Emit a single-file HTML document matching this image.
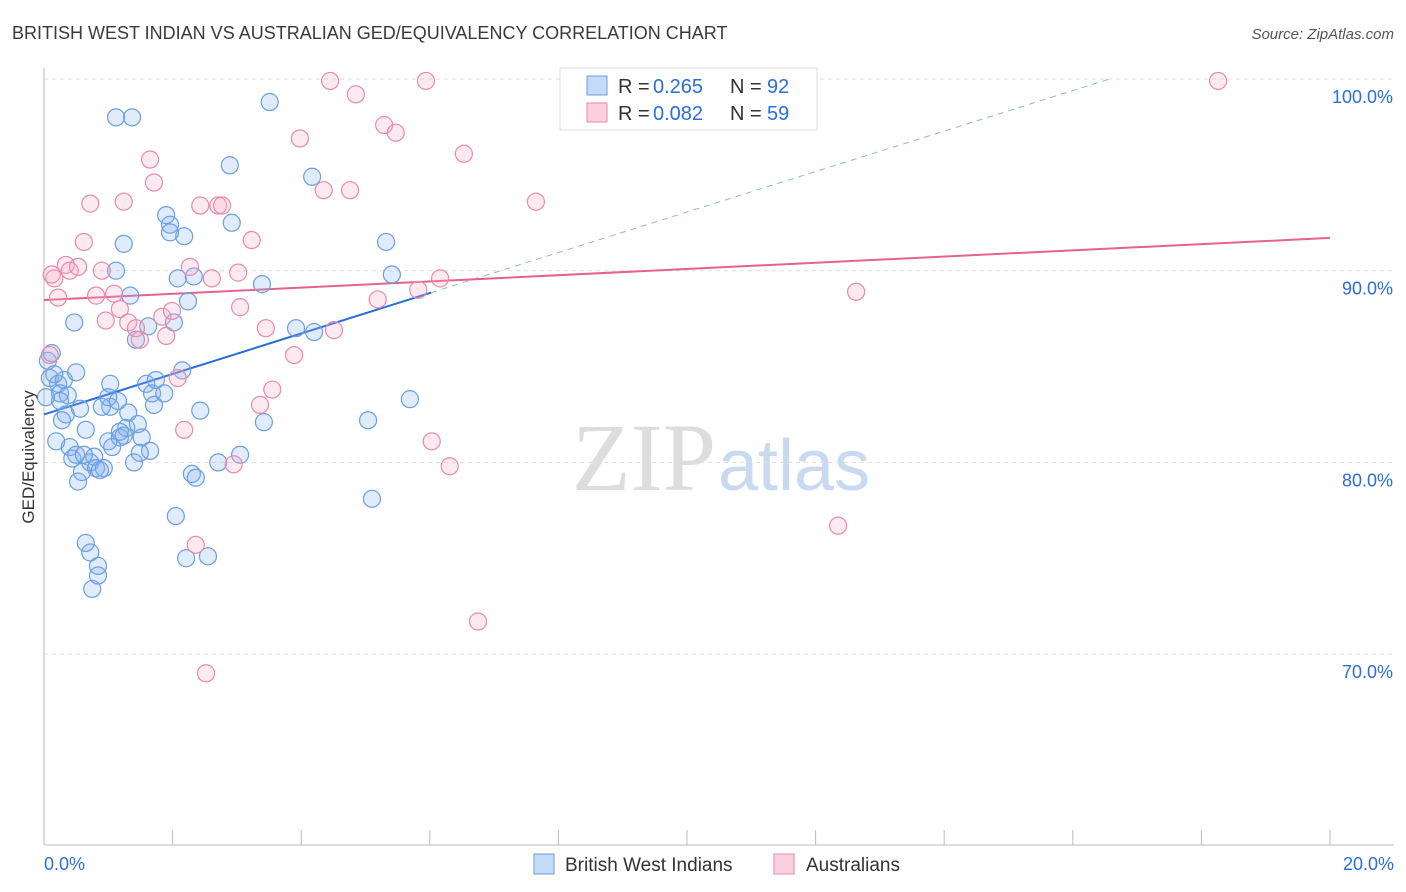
<!DOCTYPE html>
<html><head><meta charset="utf-8"><style>
body{margin:0;background:#fff;font-family:"Liberation Sans",sans-serif}
</style></head><body>
<svg id="chart" width="1406" height="892" xmlns="http://www.w3.org/2000/svg" style="display:block">
<text x="12" y="39" font-size="18" fill="#3a3a3a" font-family="Liberation Sans, sans-serif">BRITISH WEST INDIAN VS AUSTRALIAN GED/EQUIVALENCY CORRELATION CHART</text>
<text x="1394" y="39" font-size="15" fill="#555" text-anchor="end" font-style="italic">Source: ZipAtlas.com</text>
<text x="716" y="490" font-size="96" text-anchor="end" fill="#ddd" font-family="Liberation Serif, serif">ZIP</text>
<text x="718" y="490" font-size="72" fill="#c9d9ef" font-family="Liberation Sans, sans-serif">atlas</text>
<g id="grid"></g><g id="axes"></g><g id="trend"></g><g id="pts"></g>
<text transform="translate(34,457) rotate(-90)" font-size="17" fill="#333" text-anchor="middle">GED/Equivalency</text>
<g>
<rect x="560" y="68" width="257" height="62" fill="#fff" stroke="#ddd"/>
<rect x="587" y="76" width="20" height="19" fill="#c4daf7" stroke="#6a9fe0"/>
<rect x="587" y="103" width="20" height="19" fill="#fbd0de" stroke="#e88aa8"/>
<text x="618" y="93" font-size="20" fill="#333">R =</text>
<text x="653" y="93" font-size="20" fill="#2a6ed8">0.265</text>
<text x="730" y="93" font-size="20" fill="#333">N =</text>
<text x="767" y="93" font-size="20" fill="#2a6ed8">92</text>
<text x="618" y="120" font-size="20" fill="#333">R =</text>
<text x="653" y="120" font-size="20" fill="#2a6ed8">0.082</text>
<text x="730" y="120" font-size="20" fill="#333">N =</text>
<text x="767" y="120" font-size="20" fill="#2a6ed8">59</text>
</g>
<g>
<rect x="534" y="854" width="20" height="20" fill="#c4daf7" stroke="#6a9fe0"/>
<text x="565" y="871" font-size="19" fill="#333">British West Indians</text>
<rect x="774" y="854" width="20" height="20" fill="#fbd0de" stroke="#e88aa8"/>
<text x="806" y="871" font-size="19" fill="#333">Australians</text>
</g>
</svg>
<script>
const yTicks=[70,80,90,100];
const yTickLabels=["70.0%","80.0%","90.0%","100.0%"];
const xTickLabels=["0.0%","20.0%"];
const blueX=[0.06,0.12,0.09,0.22,0.25,0.31,0.37,0.34,0.47,0.50,0.40,0.44,0.56,0.65,0.53,0.59,0.72,0.78,0.81,0.93,0.75,0.84,0.84,0.72,0.65,1.00,1.03,1.03,0.90,1.12,1.37,1.24,1.12,1.34,1.15,1.06,1.18,1.28,1.31,1.24,1.40,1.43,1.46,1.52,1.59,1.65,1.62,1.68,1.71,1.74,1.87,1.90,1.96,1.96,2.18,2.02,2.08,2.15,2.24,2.33,2.30,2.36,2.43,2.05,2.21,2.55,2.71,2.89,2.92,3.05,3.39,3.42,3.51,3.92,4.17,4.20,5.04,5.10,5.32,5.41,5.69,0.19,0.28,0.50,0.62,0.87,1.00,1.18,1.49,0.25,0.03,0.16];
const blueY=[85.3,85.7,84.4,84.1,83.6,84.3,83.5,82.5,87.3,84.7,80.8,80.2,82.8,81.7,79.0,79.5,80.0,80.3,79.7,79.7,73.4,74.1,74.6,75.3,75.8,81.1,84.1,82.9,82.9,98.0,98.0,91.4,90.0,88.7,83.2,80.8,81.3,81.8,82.6,81.4,80.0,86.4,82.0,81.3,84.1,80.6,87.1,83.6,83.0,84.3,83.6,92.9,92.4,92.0,91.8,87.3,89.6,84.8,88.4,89.7,79.4,79.2,82.7,77.2,75.0,75.1,80.0,95.5,92.5,80.4,89.3,82.1,98.8,87.0,94.9,86.8,82.2,78.1,91.5,89.8,83.3,81.1,82.2,80.4,80.4,79.6,83.4,81.6,80.5,83.2,83.4,84.6];
const pinkX=[0.09,0.16,0.12,0.22,0.34,0.40,0.53,0.62,0.72,0.81,0.90,0.96,1.09,1.18,1.24,1.31,1.43,1.49,1.65,1.71,1.84,1.90,1.99,2.08,2.18,2.27,2.36,2.43,2.52,2.61,2.71,2.77,2.95,3.02,3.05,3.23,3.36,3.45,3.55,3.89,3.98,4.35,4.45,4.51,4.76,4.85,5.19,5.29,5.47,5.82,5.94,6.03,6.16,6.31,6.53,6.75,7.65,12.35,12.63,18.26];
const pinkY=[85.6,89.6,89.8,88.6,90.3,90.0,90.2,91.5,93.5,88.7,90.0,87.4,88.8,88.0,93.6,87.3,87.0,86.4,95.8,94.6,87.6,86.6,87.9,84.4,81.7,90.2,75.7,93.4,69.0,89.6,93.4,93.4,79.9,89.9,88.1,91.6,83.0,87.0,83.8,85.6,96.9,94.2,99.9,86.9,94.2,99.2,88.5,97.6,97.2,89.0,99.9,81.1,89.6,79.8,96.1,71.7,93.6,76.7,88.9,99.9];
const blueTrend=[82.5,1.056];
const pinkTrend=[88.47,0.162];
const X=v=>44+v*64.3, Y=v=>79+(100-v)*19.17;
const NS="http://www.w3.org/2000/svg";
function mk(t,a,p){const e=document.createElementNS(NS,t);for(const k in a)e.setAttribute(k,a[k]);p.appendChild(e);return e;}
const grid=document.getElementById('grid'),axes=document.getElementById('axes'),tr=document.getElementById('trend'),pts=document.getElementById('pts');
yTicks.forEach((t,i)=>{
 const l=mk('line',{x1:44,x2:1394,y1:Y(t),y2:Y(t),stroke:'#ddd','stroke-dasharray':'4,4'},grid);
 
 
 const tx=mk('text',{x:1393,y:Y(t)+24,'font-size':18,fill:'#2a6ed8','text-anchor':'end'},axes);
 tx.textContent=yTickLabels[i];
 
 
});
mk('line',{x1:44,x2:44,y1:68,y2:845,stroke:'#bbb'},axes);
mk('line',{x1:44,x2:1394,y1:845,y2:845,stroke:'#bbb'},axes);
for(let i=0;i<=10;i++){mk('line',{x1:X(i*2),x2:X(i*2),y1:830,y2:845,stroke:'#bbb'},axes);}
[[0,44,'start'],[20,1394,'end']].forEach((d,i)=>{
 const tx=mk('text',{x:d[1],y:870,'font-size':18,fill:'#2a6ed8','text-anchor':d[2]},axes);
 tx.textContent=xTickLabels[i];
 
 
});
const bl=mk('line',{x1:X(0),y1:Y(blueTrend[0]),x2:X(6.02),y2:Y(blueTrend[0]+blueTrend[1]*6.02),stroke:'#2a6ed8','stroke-width':2},tr);


const xe=(100-blueTrend[0])/blueTrend[1];
const bd=mk('line',{x1:X(6.02),y1:Y(blueTrend[0]+blueTrend[1]*6.02),x2:X(xe),y2:Y(100),stroke:'#8fb4ea','stroke-width':1,'stroke-dasharray':'6,5'},tr);


const pl=mk('line',{x1:X(0),y1:Y(pinkTrend[0]),x2:X(20),y2:Y(pinkTrend[0]+pinkTrend[1]*20),stroke:'#e5628f','stroke-width':2},tr);


blueX.forEach((x,i)=>{
 const c=mk('circle',{cx:X(x),cy:Y(blueY[i]),r:8.5,fill:'rgba(130,175,240,0.25)',stroke:'#6a9fe0','stroke-width':1.2},pts);
 
 
});
pinkX.forEach((x,i)=>{
 const c=mk('circle',{cx:X(x),cy:Y(pinkY[i]),r:8.5,fill:'rgba(248,170,198,0.25)',stroke:'#e88aa8','stroke-width':1.2},pts);
 
 
});
</script>
</body></html>
